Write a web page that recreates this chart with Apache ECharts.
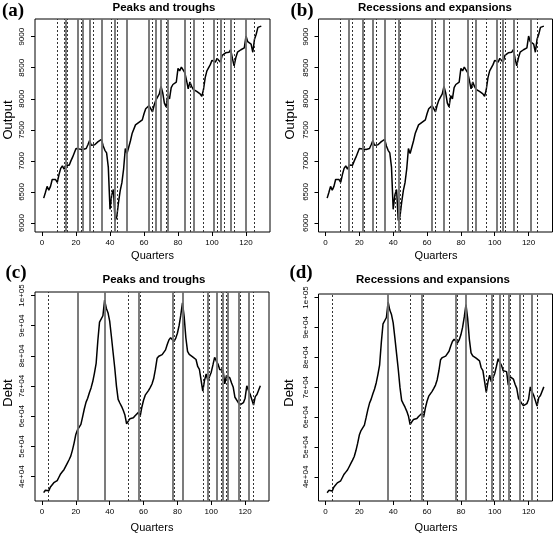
<!DOCTYPE html>
<html><head><meta charset="utf-8">
<script src="https://cdn.jsdelivr.net/npm/echarts@6/dist/echarts.min.js"></script>
<style>html,body{margin:0;padding:0;background:#fff}#c{width:553px;height:535px}</style>
</head><body><div id="c"></div><script>
const output = [6400,6490,6590,6530,6590,6700,6710,6700,6655,6780,6880,6920,6865,6935,6925,6930,7000,7060,7080,7200,
7210,7190,7175,7185,7180,7200,7260,7330,7250,7220,7260,7290,7310,7320,7345,7240,7170,7130,6900,6220,
6450,6540,6040,6100,6330,6520,6650,6870,7200,7120,7130,7320,7440,7450,7580,7590,7620,7650,7660,7760,
7840,7860,7890,7870,7790,7900,7980,8000,8080,8200,8100,7930,7870,8050,8000,8180,8230,8260,8270,8490,
8450,8510,8535,8420,8300,8160,8270,8200,8150,8180,8120,8100,8080,8040,8150,8340,8450,8460,8550,8620,
8600,8590,8650,8660,8590,8700,8680,8740,8760,8750,8790,8650,8530,8660,8750,8760,8790,8810,8820,9010,
8920,8900,8880,8750,8960,9040,9150,9160,9170];
const debt = [34700,35500,35600,35300,36600,36800,38000,38500,38700,39800,40900,41600,42300,43400,44500,45600,46800,48800,51200,54000,
55500,55500,57300,59800,62400,64600,66000,67800,69400,71500,74300,77500,85000,91200,91500,93300,98500,95800,94300,91500,
86500,81200,76000,70000,65600,64400,63300,62000,60400,57500,58400,59200,59700,59500,60200,60700,61300,60000,63000,65300,
67000,67600,68600,69600,70700,72500,75500,79200,79900,80100,80400,81000,82000,83800,85300,86000,86200,84800,85800,87500,
90000,93500,97600,93000,86000,81500,80500,80000,79700,79300,78800,76500,75500,75200,68300,71800,74000,71800,73200,74600,
77000,79500,78300,77300,75500,75300,75200,70700,73500,74000,72700,71000,69600,66300,65800,64500,63800,63500,64500,66000,
70100,68500,67300,65500,63700,66500,67200,67400,70100];
const xTicks = [0,20,40,60,80,100,120];
const outputTicks = [6000,6500,7000,7500,8000,8500,9000];
const debtTicks = [40000,50000,60000,70000,80000,90000,100000];
const debtTickLabels = ['4e+04','5e+04','6e+04','7e+04','8e+04','9e+04','1e+05'];
// vertical lines: solid = peaks / recession starts, dotted = troughs / expansion starts
const peaksA = [14,21,24,28,35,43,50,63,67,70,74,84,89,101,105,111,120];
const troughsA = [9,13,15,23,30,41,44,65,73,87,95,103,107,113,125];
const peaksB = [14,22,28,35,43,63,70,84,89,101,105,111,121];
const troughsB = [9,16,23,30,41,44,65,73,87,95,103,106,113,125];
const peaksC = [21,37,57,77,83,98,103,107,110,116,122];
const troughsC = [4,51,58,78,95,99,106,109,117,125];
const peaksD = [37,57,77,83,98,103,108,115,122];
const troughsD = [4,50,58,78,95,99,105,109,117,125];

const quarters = output.map((_, i) => i + 1);
const SANS = 'Liberation Sans, Arial, sans-serif';
const grids = [
  {left:35, top:19, width:235, height:213},
  {left:318.5, top:19, width:234, height:213},
  {left:35, top:292, width:234, height:209},
  {left:318.5, top:294, width:234, height:207}
];
function xAx(i){
  return {type:'value', gridIndex:i, min:-4.12, max:134.12,
    axisLine:{show:false, onZero:false}, splitLine:{show:false},
    axisTick:{show:true, length:4, customValues:xTicks, lineStyle:{color:'#000', width:1}},
    axisLabel:{customValues:xTicks, fontSize:8, color:'#000', margin:7, fontFamily:SANS}};
}
function yAx(i, isDebt){
  const ticks = isDebt ? debtTicks : outputTicks;
  return {type:'value', gridIndex:i,
    min: isDebt ? 31936 : 5855, max: isDebt ? 101164 : 9285,
    axisLine:{show:false, onZero:false}, splitLine:{show:false},
    axisTick:{show:true, length:4, customValues:ticks, lineStyle:{color:'#000', width:1}},
    axisLabel:{customValues:ticks, rotate:90, fontSize:8, color:'#000', margin:9, fontFamily:SANS,
      formatter: v => isDebt ? debtTickLabels[debtTicks.indexOf(v)] : String(v)}};
}
function vlines(peaks, troughs){
  return {silent:true, symbol:['none','none'], label:{show:false}, animation:false,
    data: peaks.map(q => ({xAxis:q, lineStyle:{type:'solid', color:'#6e6e6e', width:1.8}}))
      .concat(troughs.map(q => ({xAxis:q, lineStyle:{type:[2,2], color:'#333', width:1}})))};
}
function ser(i, vals, peaks, troughs){
  return {type:'line', xAxisIndex:i, yAxisIndex:i, data: vals.map((v,k)=>[quarters[k], v]),
    showSymbol:false, symbol:'none', lineStyle:{color:'#000', width:1.5}, z:3,
    markLine: vlines(peaks, troughs)};
}
function txt(t, x, y, font, rot){
  return {type:'text', x:x, y:y, rotation: rot||0, z:10,
    style:{text:t, x:0, y:0, align:'center', verticalAlign:'middle', font:font, fill:'#000'}};
}
const chart = echarts.init(document.getElementById('c'), null, {renderer:'canvas'});
chart.setOption({
  animation:false, backgroundColor:'#fff',
  grid: grids.map(g => Object.assign({show:true, borderColor:'#000', borderWidth:1, backgroundColor:'transparent'}, g)),
  xAxis:[xAx(0), xAx(1), xAx(2), xAx(3)],
  yAxis:[yAx(0,false), yAx(1,false), yAx(2,true), yAx(3,true)],
  series:[ser(0, output, peaksA, troughsA), ser(1, output, peaksB, troughsB),
          ser(2, debt, peaksC, troughsC), ser(3, debt, peaksD, troughsD)],
  graphic:[
    txt('(a)', 13, 11, 'bold 19px "Liberation Serif", serif'),
    txt('(b)', 302, 11, 'bold 19px "Liberation Serif", serif'),
    txt('(c)', 16, 273, 'bold 19px "Liberation Serif", serif'),
    txt('(d)', 301, 273, 'bold 19px "Liberation Serif", serif'),
    txt('Peaks and troughs', 164, 8, 'bold 11.5px ' + SANS),
    txt('Recessions and expansions', 435, 8, 'bold 11.5px ' + SANS),
    txt('Peaks and troughs', 154, 280, 'bold 11.5px ' + SANS),
    txt('Recessions and expansions', 433, 280, 'bold 11.5px ' + SANS),
    txt('Quarters', 152.5, 256, '11px ' + SANS),
    txt('Quarters', 436, 256, '11px ' + SANS),
    txt('Quarters', 152, 528, '11px ' + SANS),
    txt('Quarters', 436, 528, '11px ' + SANS),
    txt('Output', 8, 120, '13px ' + SANS, Math.PI/2),
    txt('Output', 290, 120, '13px ' + SANS, Math.PI/2),
    txt('Debt', 8, 393, '13px ' + SANS, Math.PI/2),
    txt('Debt', 289, 393, '13px ' + SANS, Math.PI/2)
  ]
});
</script></body></html>
